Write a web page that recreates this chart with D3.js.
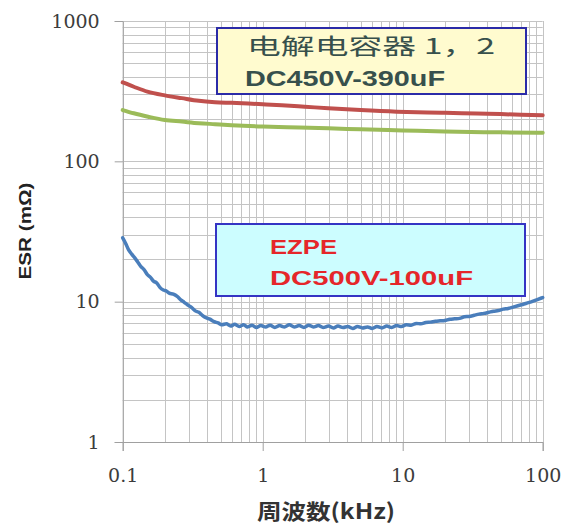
<!DOCTYPE html>
<html><head><meta charset="utf-8">
<script src="https://cdn.jsdelivr.net/npm/d3@7"></script>
<style>body{margin:0;background:#fff}svg{display:block}</style>
</head><body>
<script>
const xTicks = [0.1, 1, 10, 100];
const xTickLabels = ["0.1", "1", "10", "100"];
const yTicks = [1, 10, 100, 1000];
const yTickLabels = ["1", "10", "100", "1000"];
const xTitle = "周波数(kHz)";
const yTitle = "ESR (mΩ)";

const redFreq = [0.1, 0.12, 0.15, 0.2, 0.264, 0.35, 0.456, 0.6, 0.789, 1, 1.37, 2, 2.94, 5, 9.06, 15, 20, 33.8, 50, 70, 100];
const redESR  = [365, 340, 314, 295, 282, 270, 264, 261, 258, 255, 251, 245, 239, 232, 226, 223, 222, 219, 217, 215, 213];

const greenFreq = [0.1, 0.12, 0.152, 0.2, 0.264, 0.35, 0.456, 0.6, 1, 1.5, 2.94, 5, 10, 20, 50, 100];
const greenESR  = [232, 220, 208, 197, 192, 187, 184, 181, 177, 175, 172, 169, 166, 163, 161, 160];

const blueFreq = [0.100,0.105,0.110,0.116,0.122,0.128,0.135,0.142,0.150,0.158,0.166,0.175,0.185,0.195,0.205,0.215,0.230,0.245,0.260,0.275,0.290,0.310,0.330,0.350,0.370,0.390,0.420,0.450,0.480,0.510,0.550,0.590,0.630,0.680,0.730,0.780,0.840,0.900,0.970,1.05,1.13,1.22,1.32,1.43,1.55,1.68,1.82,1.97,2.13,2.30,2.50,2.70,2.95,3.20,3.45,3.75,4.05,4.40,4.75,5.15,5.60,6.05,6.55,7.10,7.70,8.35,9.05,9.80,10.6,11.5,12.5,13.5,14.6,15.8,17.1,18.5,20.0,21.7,23.5,25.5,27.6,29.9,32.4,35.1,38.0,41.2,44.6,48.3,52.3,56.7,61.4,66.5,72.0,78.0,84.5,91.5,100];
const blueESR  = [28.5,26.0,23.5,21.8,20.5,19.2,17.8,16.9,15.6,14.9,14.0,13.6,12.6,12.1,11.9,11.5,11.3,10.9,10.3,9.9,9.5,9.1,8.6,8.4,8.0,7.7,7.5,7.2,7.05,6.85,6.95,6.70,6.90,6.65,6.85,6.60,6.80,6.55,6.75,6.60,6.80,6.55,6.75,6.60,6.85,6.60,6.75,6.55,6.80,6.60,6.75,6.55,6.70,6.50,6.70,6.55,6.65,6.45,6.65,6.50,6.60,6.45,6.65,6.50,6.70,6.55,6.75,6.65,6.85,6.80,7.00,6.95,7.10,7.15,7.25,7.30,7.35,7.50,7.55,7.60,7.80,7.85,8.00,8.15,8.25,8.40,8.55,8.65,8.85,8.95,9.15,9.35,9.55,9.80,10.05,10.35,10.7];

const legend1 = ["电解电容器 1，2", "DC450V-390uF"];
const legend2 = ["EZPE", "DC500V-100uF"];

const W = 566, H = 527;
const svg = d3.select("body").append("svg").attr("width", W).attr("height", H);

const x = d3.scaleLog().domain([0.1, 100]).range([122.7, 542.7]);
const y = d3.scaleLog().domain([1, 1000]).range([442, 21]);

// grid
const minorX = [], minorY = [];
for (let d = 0.1; d < 100; d *= 10) for (let k = 1; k <= 10; k++) minorX.push(+(d * k).toPrecision(3));
for (let d = 1; d < 1000; d *= 10) for (let k = 1; k <= 10; k++) minorY.push(+(d * k).toPrecision(3));
const grid = svg.append("g");
grid.selectAll(".gx").data(minorX).join("line")
  .attr("x1", d => Math.round(x(d)) + 0.5).attr("x2", d => Math.round(x(d)) + 0.5)
  .attr("y1", y(1000)).attr("y2", y(1))
  .attr("stroke", "#c4c4c4").attr("stroke-width", 1);
grid.selectAll(".gy").data(minorY).join("line")
  .attr("y1", d => Math.round(y(d)) + 0.5).attr("y2", d => Math.round(y(d)) + 0.5)
  .attr("x1", x(0.1)).attr("x2", x(100))
  .attr("stroke", "#c4c4c4").attr("stroke-width", 1);

// axes
const xAxis = d3.axisBottom(x).tickValues(xTicks).tickFormat((d, i) => xTickLabels[i]).tickSize(9).tickPadding(18);
const yAxis = d3.axisLeft(y).tickValues(yTicks).tickFormat((d, i) => yTickLabels[i]).tickSize(8).tickPadding(15);
const gx = svg.append("g").attr("transform", `translate(0,${y(1)})`).call(xAxis);
const gy = svg.append("g").attr("transform", `translate(${x(0.1)},0)`).call(yAxis);
[gx, gy].forEach(g => {
  g.select(".domain").attr("stroke", "#a0a0a0");
  g.selectAll(".tick line").attr("stroke", "#a0a0a0");
  g.selectAll(".tick text").attr("fill", "#3c3c3c").attr("font-family", "'DejaVu Serif', serif").attr("font-size", 19);
});

// axis titles
svg.append("text").attr("x", 326).attr("y", 519).attr("text-anchor", "middle")
  .attr("font-family", "'Noto Sans CJK JP', sans-serif").attr("font-weight", "bold").attr("font-size", 21)
  .attr("fill", "#333").attr("textLength", 138).attr("lengthAdjust", "spacingAndGlyphs").text(xTitle);
svg.append("text").attr("transform", "translate(31,231) rotate(-90)").attr("text-anchor", "middle")
  .attr("font-family", "'Liberation Sans', sans-serif").attr("font-weight", "bold").attr("font-size", 16)
  .attr("fill", "#222").attr("textLength", 97).attr("lengthAdjust", "spacingAndGlyphs").text(yTitle);

// legend boxes
svg.append("rect").attr("x", 217).attr("y", 28).attr("width", 309).attr("height", 66)
  .attr("fill", "#fffbcf").attr("stroke", "#2b2ba8").attr("stroke-width", 2);
svg.append("text").attr("x", 247).attr("y", 54).attr("font-family", "'Noto Sans CJK SC', sans-serif")
  .attr("font-size", 22).attr("fill", "#37504c").attr("textLength", 248).attr("lengthAdjust", "spacingAndGlyphs").text(legend1[0]);
svg.append("text").attr("x", 245).attr("y", 86).attr("font-family", "'Liberation Sans', sans-serif").attr("font-weight", "bold")
  .attr("font-size", 22).attr("fill", "#37504c").attr("textLength", 200).attr("lengthAdjust", "spacingAndGlyphs").text(legend1[1]);

svg.append("rect").attr("x", 216).attr("y", 224).attr("width", 309).attr("height", 72)
  .attr("fill", "#ccfdff").attr("stroke", "#3434c4").attr("stroke-width", 2);
svg.append("text").attr("x", 270).attr("y", 254).attr("font-family", "'Liberation Sans', sans-serif").attr("font-weight", "bold")
  .attr("font-size", 21).attr("fill", "#e5262a").attr("textLength", 67).attr("lengthAdjust", "spacingAndGlyphs").text(legend2[0]);
svg.append("text").attr("x", 270).attr("y", 285).attr("font-family", "'Liberation Sans', sans-serif").attr("font-weight", "bold")
  .attr("font-size", 21).attr("fill", "#e5262a").attr("textLength", 203).attr("lengthAdjust", "spacingAndGlyphs").text(legend2[1]);

// curves
const line = d3.line().x(d => x(d[0])).y(d => y(d[1])).curve(d3.curveMonotoneX);
const series = [
  {f: redFreq, v: redESR, c: "#c0504d", w: 4},
  {f: greenFreq, v: greenESR, c: "#9bbb59", w: 4},
  {f: blueFreq, v: blueESR, c: "#4a7ebb", w: 3.5}
];
svg.append("g").selectAll("path").data(series).join("path")
  .attr("d", s => line(s.f.map((f, i) => [f, s.v[i]])))
  .attr("fill", "none").attr("stroke", s => s.c).attr("stroke-width", s => s.w)
  .attr("stroke-linejoin", "round").attr("stroke-linecap", "round");
</script>
</body></html>
